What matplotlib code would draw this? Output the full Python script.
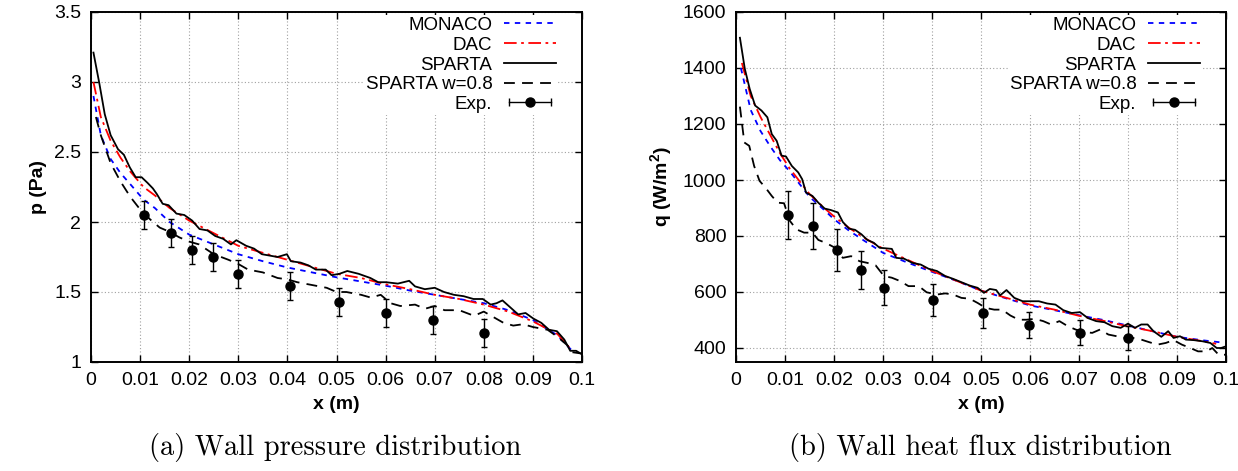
import matplotlib
matplotlib.use("Agg")
import matplotlib.pyplot as plt
from matplotlib.lines import Line2D
from matplotlib.legend_handler import HandlerLine2D, HandlerTuple

plt.rcParams["font.family"] = ["Liberation Sans", "DejaVu Sans"]
plt.rcParams["mathtext.fontset"] = "custom"
plt.rcParams["mathtext.rm"] = "Liberation Sans"
plt.rcParams["mathtext.bf"] = "Liberation Sans:bold"

# ---- wall pressure (Pa) ----
p_monaco_x = [0.0005, 0.002, 0.004, 0.006, 0.008, 0.0107, 0.013, 0.016, 0.020, 0.025,
              0.030, 0.035, 0.040, 0.045, 0.050, 0.055, 0.060, 0.065, 0.070, 0.075,
              0.080, 0.085, 0.090, 0.095, 0.098]
p_monaco = [2.90, 2.62, 2.45, 2.35, 2.27, 2.16, 2.10, 2.00, 1.91, 1.84,
            1.77, 1.72, 1.675, 1.64, 1.605, 1.575, 1.545, 1.51, 1.48, 1.45,
            1.42, 1.37, 1.30, 1.19, 1.08]

p_dac_x = [0.0005, 0.002, 0.004, 0.006, 0.008, 0.0107, 0.013, 0.016, 0.020, 0.025,
           0.030, 0.035, 0.040, 0.045, 0.050, 0.055, 0.060, 0.065, 0.070, 0.075,
           0.080, 0.085, 0.090, 0.095, 0.098]
p_dac = [3.00, 2.75, 2.58, 2.46, 2.36, 2.25, 2.19, 2.10, 2.01, 1.92,
         1.83, 1.78, 1.73, 1.68, 1.63, 1.60, 1.555, 1.52, 1.48, 1.45,
         1.41, 1.36, 1.29, 1.20, 1.08]

p_sparta_x = [0.0005, 0.0017, 0.0028, 0.004, 0.0055, 0.0067, 0.0079, 0.0091, 0.0103, 0.0115,
              0.0126, 0.0134, 0.0146, 0.0158, 0.0174, 0.019, 0.0206, 0.0221, 0.0237, 0.0253,
              0.0269, 0.0285, 0.0296, 0.0316, 0.0332, 0.0348, 0.0364, 0.038, 0.0399, 0.0407,
              0.0427, 0.0443, 0.0458, 0.0478, 0.049, 0.0506, 0.0522, 0.0545, 0.0569, 0.0585,
              0.0601, 0.0625, 0.0648, 0.066, 0.068, 0.070, 0.0719, 0.0739, 0.0759, 0.0779,
              0.0798, 0.0814, 0.0826, 0.0838, 0.0854, 0.087, 0.0885, 0.0901, 0.0917, 0.0933,
              0.0949, 0.0964, 0.0976, 0.0988, 0.1]
p_sparta = [3.21, 2.99, 2.77, 2.62, 2.52, 2.48, 2.39, 2.32, 2.32, 2.28,
            2.24, 2.20, 2.13, 2.12, 2.06, 2.05, 2.01, 1.95, 1.94, 1.90,
            1.88, 1.84, 1.87, 1.83, 1.81, 1.77, 1.76, 1.75, 1.77, 1.72,
            1.71, 1.69, 1.66, 1.66, 1.62, 1.63, 1.65, 1.63, 1.60, 1.57,
            1.57, 1.56, 1.58, 1.54, 1.52, 1.53, 1.50, 1.48, 1.47, 1.45,
            1.45, 1.41, 1.42, 1.44, 1.39, 1.34, 1.35, 1.31, 1.28, 1.23,
            1.22, 1.16, 1.08, 1.08, 1.055]

p_w08_x = [0.001, 0.002, 0.004, 0.006, 0.008, 0.010, 0.012, 0.014, 0.016, 0.018,
           0.020, 0.022, 0.025, 0.028, 0.030, 0.032, 0.035, 0.038, 0.040, 0.042,
           0.045, 0.048, 0.050, 0.052, 0.055, 0.057, 0.059, 0.061, 0.063, 0.066,
           0.068, 0.070, 0.072, 0.075, 0.078, 0.080, 0.082, 0.084, 0.086, 0.088,
           0.090, 0.093, 0.095, 0.097, 0.098, 0.1]
p_w08 = [2.75, 2.62, 2.42, 2.29, 2.18, 2.09, 2.02, 1.96, 1.93, 1.89,
         1.86, 1.84, 1.77, 1.73, 1.70, 1.66, 1.64, 1.60, 1.59, 1.57,
         1.55, 1.53, 1.50, 1.50, 1.48, 1.46, 1.48, 1.42, 1.40, 1.41,
         1.38, 1.40, 1.37, 1.37, 1.33, 1.36, 1.32, 1.28, 1.26, 1.27,
         1.25, 1.23, 1.18, 1.12, 1.07, 1.06]

p_exp_x = [0.0107, 0.0162, 0.0205, 0.0248, 0.030, 0.0405, 0.0505, 0.060, 0.0697, 0.080]
p_exp = [2.05, 1.92, 1.80, 1.75, 1.63, 1.54, 1.43, 1.35, 1.30, 1.21]
p_exp_err = [0.1, 0.1, 0.1, 0.1, 0.1, 0.1, 0.1, 0.1, 0.1, 0.1]

# ---- wall heat flux (W/m^2) ----
q_monaco_x = [0.001, 0.003, 0.005, 0.007, 0.009, 0.011, 0.013, 0.015, 0.018, 0.020,
              0.023, 0.026, 0.030, 0.035, 0.040, 0.045, 0.050, 0.055, 0.060, 0.065,
              0.070, 0.075, 0.080, 0.085, 0.090, 0.095, 0.099]
q_monaco = [1400, 1250, 1175, 1120, 1070, 1030, 985, 940, 893, 860,
            820, 785, 740, 705, 672, 640, 605, 578, 552, 535,
            517, 500, 480, 460, 440, 428, 420]

q_dac_x = [0.0012, 0.003, 0.005, 0.007, 0.009, 0.011, 0.013, 0.015, 0.018, 0.020,
           0.023, 0.026, 0.030, 0.035, 0.040, 0.045, 0.050, 0.055, 0.060, 0.065,
           0.070, 0.075, 0.080, 0.085, 0.090, 0.095, 0.098]
q_dac = [1418, 1300, 1225, 1160, 1095, 1040, 995, 950, 900, 870,
         830, 795, 755, 715, 675, 640, 605, 580, 555, 537,
         515, 497, 477, 460, 440, 425, 415]

q_sparta_x = [0.0008, 0.0018, 0.0028, 0.0039, 0.0052, 0.0064, 0.0073, 0.0083, 0.0093, 0.0102,
              0.0114, 0.0127, 0.0135, 0.0143, 0.0156, 0.0168, 0.0181, 0.0193, 0.0208, 0.0218,
              0.0231, 0.0243, 0.0256, 0.0268, 0.0281, 0.0293, 0.0318, 0.0327, 0.0343, 0.036,
              0.0377, 0.0393, 0.041, 0.0427, 0.0443, 0.046, 0.0477, 0.0493, 0.0506, 0.0518,
              0.0531, 0.0539, 0.0552, 0.0568, 0.0585, 0.0602, 0.0618, 0.0635, 0.0652, 0.0668,
              0.0685, 0.0702, 0.0718, 0.0735, 0.0752, 0.0768, 0.0785, 0.080, 0.0814, 0.0827,
              0.084, 0.0852, 0.0868, 0.0882, 0.0893, 0.0906, 0.0918, 0.0935, 0.0952, 0.0968,
              0.0981, 0.099, 0.1]
q_sparta = [1508, 1397, 1325, 1266, 1248, 1224, 1164, 1140, 1087, 1084,
            1050, 1027, 1003, 955, 943, 919, 898, 893, 884, 850,
            826, 822, 806, 786, 776, 758, 754, 722, 719, 704,
            698, 683, 675, 657, 647, 635, 623, 615, 597, 611,
            607, 588, 607, 579, 567, 567, 567, 559, 555, 535,
            525, 528, 507, 496, 492, 478, 472, 487, 472, 484,
            484, 460, 440, 460, 436, 442, 430, 428, 424, 418,
            400, 400, 406]

q_w08_x = [0.0008, 0.0017, 0.0027, 0.0037, 0.0048, 0.006, 0.0073, 0.0085, 0.0098, 0.011,
           0.0123, 0.0139, 0.0156, 0.0168, 0.0185, 0.0202, 0.0218, 0.0235, 0.0252, 0.0268,
           0.0285, 0.0302, 0.0318, 0.0335, 0.0352, 0.0373, 0.0389, 0.041, 0.0427, 0.0443,
           0.046, 0.0477, 0.0493, 0.051, 0.0527, 0.0543, 0.056, 0.0577, 0.0593, 0.061,
           0.0627, 0.0643, 0.066, 0.0677, 0.0693, 0.071, 0.0727, 0.0743, 0.076, 0.0777,
           0.0793, 0.081, 0.0827, 0.0843, 0.086, 0.0877, 0.0893, 0.091, 0.0927, 0.0943,
           0.096, 0.0972, 0.0985, 0.1]
q_w08 = [1262, 1134, 1122, 1050, 997, 973, 943, 919, 917, 854,
         824, 812, 812, 786, 774, 758, 722, 728, 710, 704,
         695, 657, 651, 639, 621, 621, 599, 591, 595, 591,
         579, 576, 561, 543, 537, 537, 516, 501, 501, 504,
         496, 484, 496, 478, 466, 457, 454, 466, 448, 442,
         436, 436, 430, 421, 412, 418, 428, 412, 400, 388,
         388, 400, 376, 376]

q_exp_x = [0.0106, 0.0158, 0.0206, 0.0255, 0.0302, 0.0402, 0.0504, 0.0598, 0.0702, 0.0799]
q_exp = [875, 835, 750, 680, 615, 570, 525, 482, 455, 435]
q_exp_err = [87, 83, 75, 68, 62, 57, 52, 48, 45, 43]

x_ticks = [0, 0.01, 0.02, 0.03, 0.04, 0.05, 0.06, 0.07, 0.08, 0.09, 0.1]
x_tick_labels = ["0", "0.01", "0.02", "0.03", "0.04", "0.05", "0.06", "0.07", "0.08", "0.09", "0.1"]
p_ticks = [1, 1.5, 2, 2.5, 3, 3.5]
p_tick_labels = ["1", "1.5", "2", "2.5", "3", "3.5"]
q_ticks = [400, 600, 800, 1000, 1200, 1400, 1600]

W, H = 1238, 471
fig = plt.figure(figsize=(W / 100, H / 100), dpi=100)

ax_p = fig.add_axes([91 / W, 1 - 362 / H, (582 - 91) / W, 350 / H])
ax_q = fig.add_axes([736 / W, 1 - 362 / H, (1226 - 736) / W, 350 / H])


def draw_panel(ax, mx, my, dx, dy, sx, sy, wx, wy, ex, ey, eerr):
    lw = 1.3
    ax.plot(mx, my, color="#0000ff", lw=lw, ls=(0, (3, 3)), label="MONACO", zorder=3)
    ax.plot(dx, dy, color="#ff0000", lw=lw, ls=(0, (7, 2.5, 1.5, 2.5)), label="DAC", zorder=3)
    ax.plot(sx, sy, color="black", lw=lw, ls="-", label="SPARTA", zorder=4)
    ax.plot(wx, wy, color="black", lw=lw, ls=(0, (6, 4)), label="SPARTA w=0.8", zorder=3)
    ax.errorbar(ex, ey, yerr=eerr, fmt="o", color="black", ms=6.5, capsize=2.5,
                elinewidth=1.0, capthick=1.0, zorder=5)

    ax.set_xlim(0, 0.1)
    ax.set_xticks(x_ticks)
    ax.set_xticklabels(x_tick_labels)
    ax.grid(True, color="#a0a0a0", ls=(0, (1, 2)), lw=0.8)
    ax.set_axisbelow(True)
    ax.tick_params(direction="in", length=5, width=1.0, top=True, right=True,
                   labelsize=14, pad=7)
    for s in ax.spines.values():
        s.set_linewidth(1.4)
    ax.set_xlabel("x (m)", fontsize=14, fontweight="bold", labelpad=5)

    # legend: text on the left, sample on the right, gnuplot style
    hs, ls = ax.get_legend_handles_labels()
    caps = Line2D([], [], color="black", lw=1.0, marker="|", ms=6, mew=1.0)
    dot = Line2D([], [], color="black", ls="none", marker="o", ms=6.5)
    hs.append((caps, dot))
    ls.append("Exp.")
    w_px = ax.get_position().width * W
    leg = ax.legend(hs, ls, loc="upper right", markerfirst=False, fontsize=13.5,
                    bbox_to_anchor=(1 - 24 / w_px, 1 - 3 / 350),
                    frameon=True, framealpha=1, edgecolor="none", facecolor="white",
                    fancybox=False, handlelength=2.8, handletextpad=0.6,
                    labelspacing=0.14, borderpad=0.1, borderaxespad=0,
                    handler_map={caps: HandlerLine2D(numpoints=2),
                                 dot: HandlerLine2D(numpoints=1),
                                 tuple: HandlerTuple(ndivide=1, pad=0)})
    leg.set_zorder(6)


draw_panel(ax_p, p_monaco_x, p_monaco, p_dac_x, p_dac, p_sparta_x, p_sparta,
           p_w08_x, p_w08, p_exp_x, p_exp, p_exp_err)
ax_p.set_ylim(1, 3.5)
ax_p.set_yticks(p_ticks)
ax_p.set_yticklabels(p_tick_labels)
ax_p.set_ylabel("p (Pa)", fontsize=14, fontweight="bold")
ax_p.yaxis.set_label_coords(-0.09, 0.5)

draw_panel(ax_q, q_monaco_x, q_monaco, q_dac_x, q_dac, q_sparta_x, q_sparta,
           q_w08_x, q_w08, q_exp_x, q_exp, q_exp_err)
ax_q.set_ylim(350, 1600)
ax_q.set_yticks(q_ticks)
ax_q.set_ylabel(r"q (W/m$^{\mathbf{2}}$)", fontsize=14, fontweight="bold")
ax_q.yaxis.set_label_coords(-0.125, 0.5)

fig.text(335 / W, 1 - 447 / H, "(a) Wall pressure distribution", family="cmr10",
         fontsize=20.5, ha="center", va="center")
fig.text(980 / W, 1 - 447 / H, "(b) Wall heat flux distribution", family="cmr10",
         fontsize=20.5, ha="center", va="center")

fig.savefig("out.png", dpi=100)
